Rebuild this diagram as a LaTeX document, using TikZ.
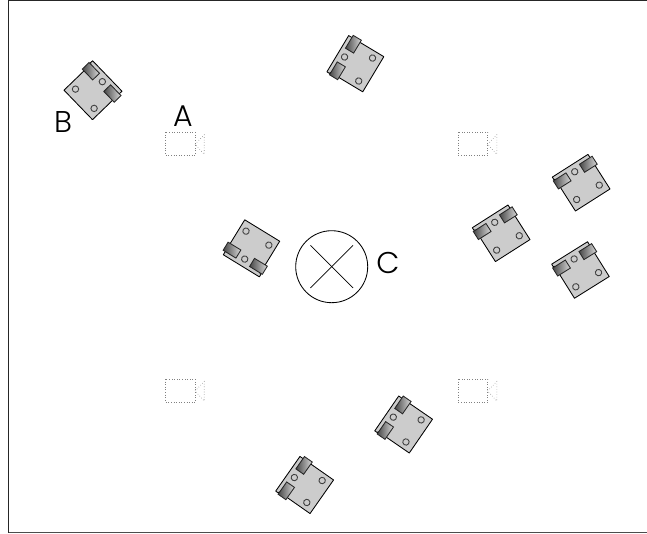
\documentclass[tikz,border=0pt]{standalone}
\usepackage{fontspec}
\newfontfamily\labfont{Poppins Light}
\definecolor{bodyc}{gray}{0.8}
\tikzset{
  x=1pt,y=1pt,
  bodyline/.style={draw=black,line width=0.85pt,fill=bodyc,line join=round},
  wheelbox/.style={draw=black!85,line width=0.85pt,rectangle,minimum width=15pt,minimum height=9.5pt,inner sep=0pt,outer sep=0pt,left color=black!72,right color=black!15,transform shape},
  holec/.style={draw=black!75,line width=0.9pt,fill=bodyc},
  camline/.style={draw=black!50,line width=0.6pt,dotted},
  lensline/.style={draw=black!42,line width=0.6pt,dotted},
  lab/.style={font=\labfont\fontsize{30}{30}\selectfont,inner sep=0pt,text=black},
}
\newcommand{\robot}[3]{%
\begin{scope}[shift={(#1,533-#2)},rotate=#3]
  \path[bodyline] (-20.5,-20.5) -- (20.5,-20.5) -- (20.5,20.5) -- (-21.8,20.5) -- (-21.8,17.2) -- (-20.5,17.2) -- cycle;
  \path[holec] (0,13) circle (3.2);
  \path[holec] (13.5,-11.5) circle (3.2);
  \path[holec] (-13.3,-11.5) circle (3.2);
  \node[wheelbox] at (-15.5,12) {};
  \node[wheelbox] at (15.5,12) {};
\end{scope}}
\newcommand{\camera}[2]{%
\begin{scope}[shift={(#1,533-#2)}]
  \path[camline] (0,0) rectangle (29.3,-23.3);
  \path[lensline] (29.3,-12) -- (38.5,-2.5) -- (38.5,-22) -- cycle;
\end{scope}}
\begin{document}
\begin{tikzpicture}
\useasboundingbox (0,0) rectangle (647,533);
\fill[white] (0,0) rectangle (647,533);
\draw[black!85,line width=1pt] (8.5,533) -- (8.5,532);
\draw[black!70,line width=1pt] (8.5,1) -- (647,1);
\draw[black!70,line width=1pt] (8.5,1) -- (647,1);
\draw[black!85,line width=1pt] (8.5,533) -- (8.5,0.5);
\draw[black!85,line width=1pt] (8.5,532) -- (647,532);
\robot{93}{90.7}{-46}
\robot{355.7}{63.7}{59}
\robot{251.5}{248}{148.5}
\robot{581.7}{182.7}{32.5}
\robot{501.7}{233.3}{32.5}
\robot{581}{270}{32}
\robot{404}{424.5}{55.5}
\robot{305}{485}{55}
\camera{165.7}{132.3}
\camera{458.3}{132.3}
\camera{165.7}{379}
\camera{458.3}{379}
\node[draw=black,line width=0.85pt,fill=white,circle,minimum size=72pt,inner sep=0pt,outer sep=0pt] (c) at (331.7,266.3) {};
\coordinate (x1) at (310.4,287.6);
\coordinate (x2) at (353,245);
\coordinate (x3) at (310.4,245);
\coordinate (x4) at (353,287.6);
\draw[black,line width=0.7pt] (x1) -- (x2);
\draw[black,line width=0.7pt] (x3) -- (x4);
\node[lab] (la) at (183,416.5) {A};
\node[lab] (lb) at (63,411) {B};
\node[lab] (lc) at (388,270) {C};
\end{tikzpicture}
\end{document}
